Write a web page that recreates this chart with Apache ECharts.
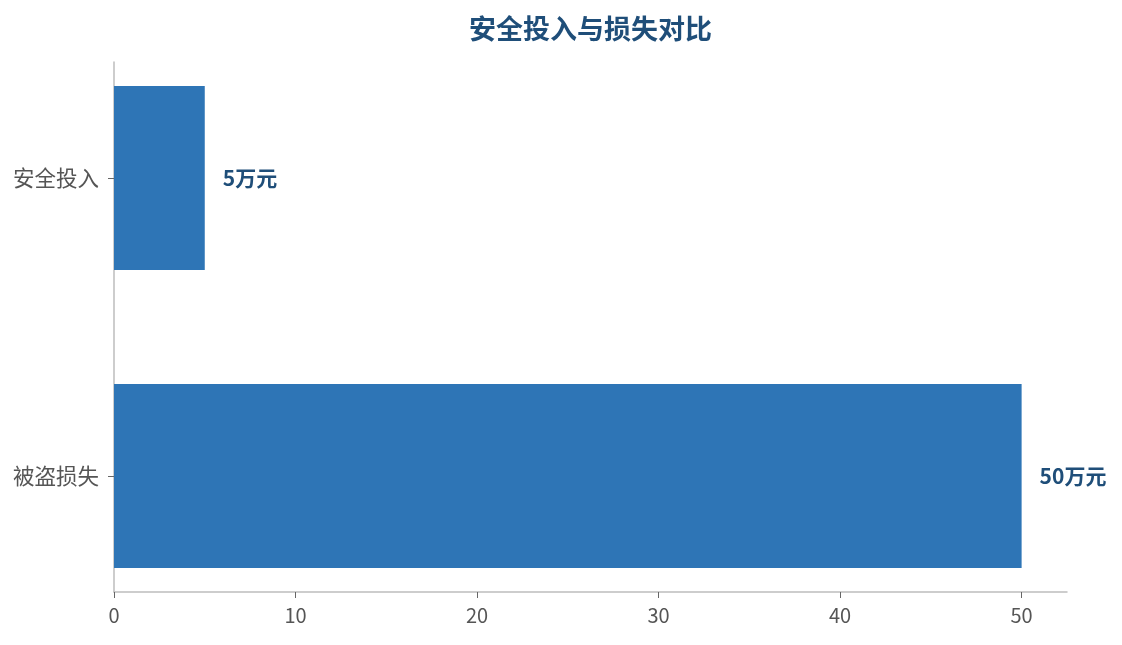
<!DOCTYPE html>
<html><head><meta charset="utf-8">
<script src="https://cdn.jsdelivr.net/npm/echarts@6/dist/echarts.min.js"></script>
<style>html,body{margin:0;padding:0;background:#fff}#c{width:1122px;height:645px}</style>
</head><body><div id="c"></div>
<script>
const title = '安全投入与损失对比';
const categories = ['被盗损失', '安全投入'];
const values = [50, 5];
const unit = '万元';
const xTicks = [0, 10, 20, 30, 40, 50];

const font = '"Microsoft YaHei","Noto Sans CJK SC","Noto Sans",sans-serif';
const chart = echarts.init(document.getElementById('c'));
chart.setOption({
  backgroundColor: '#fff',
  animation: false,
  title: {
    text: title, left: 464, top: 10,
    textStyle: {fontFamily: font, fontSize: 27, fontWeight: 'bold', color: '#1f4e79'}
  },
  grid: [
    {left: 114, right: 55, top: 29, bottom: 20},
    {left: 114, right: 55, top: 62, bottom: 53}
  ],
  xAxis: [
    {gridIndex: 0, type: 'value', min: 0, max: 52.5, show: false},
    {gridIndex: 1, type: 'value', min: 0, max: 52.5, interval: 10,
     axisLine: {show: true, lineStyle: {color: '#bdbdbd', width: 1.5}},
     axisTick: {show: true, length: 6, lineStyle: {color: '#666'}, customValues: xTicks},
     axisLabel: {color: '#555', fontSize: 20, fontFamily: font, margin: 13, customValues: xTicks},
     splitLine: {show: false}}
  ],
  yAxis: [
    {gridIndex: 0, type: 'category', data: categories,
     axisLine: {show: false},
     axisTick: {show: true, alignWithLabel: true, length: 6, lineStyle: {color: '#666'}},
     axisLabel: {color: '#555', fontSize: 21.5, fontFamily: font, margin: 15}},
    {gridIndex: 1, type: 'value', min: 0, max: 1,
     axisLine: {show: true, lineStyle: {color: '#bdbdbd', width: 1.5}},
     axisTick: {show: false}, axisLabel: {show: false}, splitLine: {show: false}}
  ],
  series: [{
    type: 'bar', xAxisIndex: 0, yAxisIndex: 0,
    data: values, barWidth: 184,
    itemStyle: {color: '#2e75b6'},
    label: {show: true, position: 'right', distance: 18,
      formatter: p => p.value + unit,
      color: '#1f4e79', fontSize: 21, fontWeight: 'bold', fontFamily: font}
  }]
});
</script></body></html>
